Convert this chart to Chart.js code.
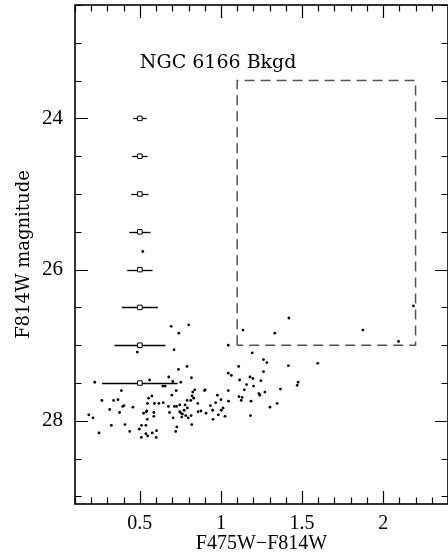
<!DOCTYPE html>
<html><head><meta charset="utf-8">
<script src="https://cdn.jsdelivr.net/npm/chart.js@4/dist/chart.umd.min.js"></script>
<style>html,body{margin:0;padding:0;background:#fff;}#wrap{width:448px;height:554px;overflow:hidden;}</style>
</head><body><div id="wrap"><canvas id="c" width="448" height="554"></canvas></div>
<script>
// star colours (F475W-F814W) and magnitudes (F814W)
const starColor = [0.222,0.560,0.386,0.266,0.338,0.365,0.574,0.554,0.547,0.402,0.394,0.457,0.314,0.375,0.543,0.540,0.523,0.185,0.211,0.546,
0.324,0.408,0.510,0.537,0.496,0.437,0.248,0.576,0.537,0.548,0.509,0.738,0.791,0.678,0.703,0.752,0.818,0.641,0.656,0.724,
0.838,0.826,0.898,0.903,1.045,0.697,0.822,0.832,0.978,0.791,0.814,1.000,1.047,0.590,0.617,0.644,0.779,0.746,0.857,0.935,
0.676,0.713,0.726,0.793,0.773,0.877,0.859,0.949,1.013,1.002,0.586,0.683,0.746,0.755,0.763,0.783,0.816,0.908,0.984,1.025,
0.586,0.705,0.758,0.798,0.951,0.820,0.728,0.721,0.603,0.601,1.109,1.416,1.262,1.045,1.064,1.179,1.197,1.115,1.246,1.476,
1.470,1.158,1.201,1.144,1.367,1.271,1.234,1.240,1.111,1.131,1.125,1.185,1.347,1.302,1.182,0.693,0.801,0.740,0.711,1.136,
1.045,1.419,1.332,1.875,2.095,2.187,1.193,1.262,1.283,1.597,0.518,0.484,0.967];
const starMag = [27.49,27.46,27.60,27.73,27.73,27.72,27.67,27.70,27.77,27.80,27.81,27.82,27.85,27.89,27.87,27.88,27.90,27.92,27.96,27.98,
28.06,28.05,28.06,28.06,28.11,28.14,28.16,28.16,28.17,28.20,28.22,27.32,27.28,27.42,27.48,27.49,27.43,27.54,27.54,27.60,
27.59,27.62,27.60,27.59,27.60,27.66,27.67,27.70,27.66,27.73,27.73,27.72,27.74,27.77,27.77,27.76,27.79,27.79,27.77,27.80,
27.81,27.81,27.81,27.83,27.86,27.87,27.88,27.86,27.83,27.86,27.89,27.89,27.88,27.90,27.91,27.93,27.93,27.90,27.92,27.94,
27.94,27.96,27.95,27.96,27.98,28.05,28.08,28.14,28.13,28.22,27.28,27.27,27.35,27.37,27.40,27.42,27.44,27.46,27.47,27.49,
27.53,27.52,27.54,27.59,27.58,27.62,27.64,27.66,27.68,27.69,27.73,27.74,27.77,27.82,27.93,26.75,26.73,26.84,27.06,26.80,
27.00,26.64,26.84,26.80,26.95,26.48,27.10,27.19,27.23,27.24,25.76,27.09,27.76];

// photometric error bars
const errMag = [24,24.5,25,25.5,26,26.5,27,27.5];
const errColor = [0.5,0.5,0.5,0.5,0.5,0.5,0.5,0.5];
const errHalf = [0.041,0.047,0.053,0.065,0.078,0.111,0.157,0.233];

// selection box
const boxColor = [1.1,1.1,2.2,2.2,1.1];
const boxMag = [27,23.5,23.5,27,27];

// tick labels
const xTickLabels = [0.5,1,1.5,2];
const yTickLabels = [24,26,28];
const titleText = 'NGC 6166 Bkgd';

const SERIF = '"Liberation Serif", "DejaVu Serif", serif';

const framePlugin = {
  id:'frame',
  beforeDatasetsDraw(chart){
    const ctx = chart.ctx, xs = chart.scales.x, ys = chart.scales.y, a = chart.chartArea;
    ctx.save();
    ctx.beginPath(); ctx.rect(a.left,a.top,a.right-a.left,a.bottom-a.top); ctx.clip();
    ctx.strokeStyle = '#000'; ctx.lineWidth = 1.3;
    errMag.forEach((m,i)=>{
      const y = Math.round(ys.getPixelForValue(m))+0.5;
      ctx.beginPath();
      ctx.moveTo(xs.getPixelForValue(errColor[i]-errHalf[i]), y);
      ctx.lineTo(xs.getPixelForValue(errColor[i]+errHalf[i]), y);
      ctx.stroke();
    });
    ctx.restore();
  },
  afterDraw(chart){
    const ctx = chart.ctx, xs = chart.scales.x, ys = chart.scales.y, a = chart.chartArea;
    ctx.save();
    ctx.strokeStyle = '#000';
    ctx.lineWidth = 1.6;
    ctx.strokeRect(a.left, a.top, a.right-a.left, a.bottom-a.top);
    ctx.lineWidth = 1.2;
    const MAJ = 13, MIN = 6.5;
    for (let i=1;i<=24;i++){
      const v = i/10;
      const px = Math.round(xs.getPixelForValue(v))+0.5;
      const L = xTickLabels.some(t=>Math.abs(t-v)<1e-6) ? MAJ : MIN;
      ctx.beginPath();
      ctx.moveTo(px,a.bottom); ctx.lineTo(px,a.bottom-L);
      ctx.moveTo(px,a.top); ctx.lineTo(px,a.top+L);
      ctx.stroke();
    }
    for (let i=45;i<=58;i++){
      const v = i/2;
      const py = Math.round(ys.getPixelForValue(v))+0.5;
      const L = yTickLabels.some(t=>Math.abs(t-v)<1e-6) ? MAJ : MIN;
      ctx.beginPath();
      ctx.moveTo(a.left,py); ctx.lineTo(a.left+L,py);
      ctx.moveTo(a.right,py); ctx.lineTo(a.right-L,py);
      ctx.stroke();
    }
    ctx.fillStyle = '#000';
    ctx.font = '19px "DejaVu Serif", serif';
    ctx.textAlign = 'left';
    ctx.textBaseline = 'alphabetic';
    ctx.fillText(titleText, xs.getPixelForValue(0.5), ys.getPixelForValue(23.336));
    ctx.restore();
  }
};

new Chart(document.getElementById('c'), {
  type:'scatter',
  data:{datasets:[
    {label:'stars', data: starColor.map((x,i)=>({x:x, y:starMag[i]})),
     pointRadius:1.4, pointHoverRadius:1.4, pointBackgroundColor:'#000', pointBorderWidth:0},
    {label:'box', data: boxColor.map((x,i)=>({x:x, y:boxMag[i]})), showLine:true,
     borderColor:'#555', borderWidth:1.5, borderDash:[10,6], pointRadius:0, fill:false, tension:0},
    {label:'errors', data: errColor.map((x,i)=>({x:x, y:errMag[i]})), pointStyle:'rect',
     pointRadius:3.2, pointHoverRadius:3.2, pointBackgroundColor:'#fff', pointBorderColor:'#000', pointBorderWidth:1}
  ]},
  options:{
    responsive:false, animation:false, devicePixelRatio:1,
    layout:{autoPadding:false, padding:{top:5,right:-1,bottom:0,left:0}},
    plugins:{legend:{display:false}, tooltip:{enabled:false}},
    scales:{
      x:{type:'linear', position:'bottom', min:0.1, max:2.4,
        grid:{display:false, drawTicks:false}, border:{display:false},
        afterBuildTicks: s => { s.ticks = xTickLabels.map(v=>({value:v})); },
        afterFit: s => { s.height = 50; s.paddingLeft = 0; s.paddingRight = 0; },
        ticks:{color:'#000', font:{family:SERIF, size:20}, padding:8, maxRotation:0, autoSkip:false,
          callback: v => String(v)},
        title:{display:true, text:'F475W\u2212F814W', color:'#000', font:{family:SERIF, size:20, lineHeight:1}, padding:{top:0,bottom:0}}
      },
      y:{type:'linear', reverse:true, min:22.5, max:29.1,
        grid:{display:false, drawTicks:false}, border:{display:false},
        afterBuildTicks: s => { s.ticks = yTickLabels.map(v=>({value:v})); },
        afterFit: s => { s.width = 75; s.paddingTop = 0; s.paddingBottom = 0; },
        ticks:{color:'#000', font:{family:SERIF, size:21}, padding:12, autoSkip:false,
          callback: v => String(v)},
        title:{display:true, text:'F814W magnitude', color:'#000', font:{family:'"DejaVu Serif", serif', size:18, lineHeight:1}, padding:{top:15,bottom:15}}
      }
    }
  },
  plugins:[framePlugin]
});
</script>
</body></html>
